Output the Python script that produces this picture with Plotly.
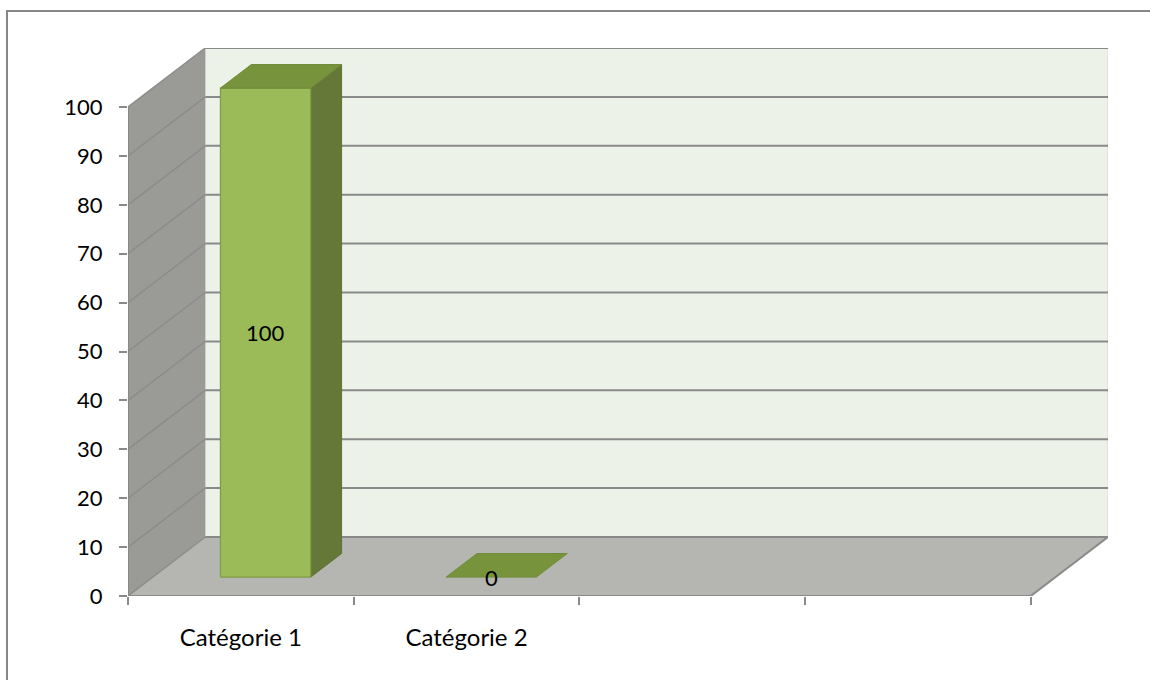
import plotly.graph_objects as go

# ---- data ----
categories = ["Catégorie 1", "Catégorie 2", "", ""]
values = [100, 0, None, None]
y_ticks = [0, 10, 20, 30, 40, 50, 60, 70, 80, 90, 100]
value_labels = ["100", "0"]

# ---- 3D projection settings (oblique) ----
W, H = 1150, 680
ML, MR, MT, MB = 128, 42, 48, 84
NCAT = len(categories)
YMAX = 100
PX_PER_CAT = 225.0
PX_PER_VAL = 4.89
DX = 77 / PX_PER_CAT      # depth offset in category units
DY = 59 / PX_PER_VAL      # depth offset in value units
Z0, Z1 = 0.32, 0.72       # bar depth extent
BW0, BW1 = 0.30, 0.70     # bar width extent inside a category
FONT = "Lato, 'Open Sans', sans-serif"


def P(x, v, z):
    return x + z * DX, v + z * DY


def poly(pts):
    xs = [p[0] for p in pts] + [pts[0][0]]
    ys = [p[1] for p in pts] + [pts[0][1]]
    return xs, ys


def path(pts):
    s = "M " + " L ".join(f"{x},{y}" for x, y in pts) + " Z"
    return s


GRID = "#898989"
fig = go.Figure()
shapes = []

# outer chart border
shapes.append(dict(type="rect", xref="paper", yref="paper",
                   x0=(7 - ML) / (W - ML - MR), x1=(1170 - ML) / (W - ML - MR),
                   y0=(H - MB - 11) / (H - MT - MB), y1=(H - MB - 720) / (H - MT - MB),
                   line=dict(color="#878787", width=2), fillcolor="rgba(0,0,0,0)",
                   layer="below"))

# back wall
bw = [P(0, 0, 1), P(NCAT, 0, 1), P(NCAT, YMAX, 1), P(0, YMAX, 1)]
shapes.append(dict(type="path", xref="x", yref="y", path=path(bw),
                   fillcolor="#EDF2E9", line=dict(color="#D5D8D2", width=1), layer="below"))
# left wall
lw = [P(0, 0, 0), P(0, 0, 1), P(0, YMAX, 1), P(0, YMAX, 0)]
shapes.append(dict(type="path", xref="x", yref="y", path=path(lw),
                   fillcolor="#9A9B97", line=dict(width=0), layer="below"))
# floor
fl = [P(0, 0, 0), P(NCAT, 0, 0), P(NCAT, 0, 1), P(0, 0, 1)]
shapes.append(dict(type="path", xref="x", yref="y", path=path(fl),
                   fillcolor="#B5B6B1", line=dict(width=0), layer="below"))

# gridlines
for v in y_ticks:
    a = P(0, v, 0); b = P(0, v, 1); c = P(NCAT, v, 1)
    shapes.append(dict(type="line", xref="x", yref="y", x0=a[0], y0=a[1], x1=b[0], y1=b[1],
                       line=dict(color="#8C8C8C", width=1.5), layer="below"))
    shapes.append(dict(type="line", xref="x", yref="y", x0=b[0], y0=b[1], x1=c[0], y1=c[1],
                       line=dict(color=GRID, width=2), layer="below"))

# axis lines: left edge, front floor edge, right floor edge
a = P(0, 0, 0); b = P(0, YMAX, 0)
shapes.append(dict(type="line", xref="x", yref="y", x0=a[0], y0=a[1], x1=b[0], y1=b[1],
                   line=dict(color=GRID, width=2), layer="below"))
a = P(0, 0, 0); b = P(NCAT, 0, 0)
shapes.append(dict(type="line", xref="x", yref="y", x0=a[0], y0=a[1], x1=b[0], y1=b[1],
                   line=dict(color=GRID, width=2), layer="below"))
a = P(NCAT, 0, 0); b = P(NCAT, 0, 1)
shapes.append(dict(type="line", xref="x", yref="y", x0=a[0], y0=a[1], x1=b[0], y1=b[1],
                   line=dict(color=GRID, width=2), layer="below"))

# bars
annotations = []
for i, v in enumerate(values):
    if v is None:
        continue
    x0, x1 = i + BW0, i + BW1
    if v > 0:
        front = [P(x0, 0, Z0), P(x1, 0, Z0), P(x1, v, Z0), P(x0, v, Z0)]
        side = [P(x1, 0, Z0), P(x1, 0, Z1), P(x1, v, Z1), P(x1, v, Z0)]
        xs, ys = poly(side)
        fig.add_trace(go.Scatter(x=xs, y=ys, fill="toself", mode="lines",
                                 fillcolor="#657838", line=dict(color="#5E7233", width=1),
                                 hoverinfo="skip", showlegend=False))
        xs, ys = poly(front)
        fig.add_trace(go.Scatter(x=xs, y=ys, fill="toself", mode="lines",
                                 fillcolor="#9BBB59", line=dict(color="#7E9C45", width=1.2),
                                 hoverinfo="skip", showlegend=False))
    top = [P(x0, v, Z0), P(x1, v, Z0), P(x1, v, Z1), P(x0, v, Z1)]
    xs, ys = poly(top)
    fig.add_trace(go.Scatter(x=xs, y=ys, fill="toself", mode="lines",
                             fillcolor="#77933C", line=dict(color="#718C39", width=1),
                             hoverinfo="skip", showlegend=False))
    cx, cy = P((x0 + x1) / 2, v / 2, Z0)
    annotations.append(dict(x=cx, y=cy, xref="x", yref="y", text=value_labels[i],
                            showarrow=False, font=dict(family=FONT, size=22, color="#000000"),
                            xanchor="center", yanchor="middle"))

fig.update_layout(
    width=W, height=H, autosize=False,
    margin=dict(l=ML, r=MR, t=MT, b=MB, pad=0),
    paper_bgcolor="white", plot_bgcolor="white",
    font=dict(family=FONT, size=22, color="#000000"),
    shapes=shapes, annotations=annotations, showlegend=False,
    xaxis=dict(range=[0, NCAT + DX], showgrid=False, zeroline=False, showline=False,
               tickmode="array", tickvals=[i + 0.5 for i in range(NCAT)], ticktext=categories,
               ticks="", ticklabelstandoff=25, fixedrange=True,
               tickfont=dict(family=FONT, size=24, color="#000000"),
               minor=dict(tickmode="array", tickvals=list(range(NCAT + 1)), ticks="outside",
                          ticklen=8, tickwidth=2, tickcolor=GRID, showgrid=False)),
    yaxis=dict(range=[0, YMAX + DY], showgrid=False, zeroline=False, showline=False,
               tickmode="array", tickvals=y_ticks, ticks="outside", ticklen=8, tickwidth=2,
               tickcolor=GRID, ticklabelstandoff=12, fixedrange=True,
               tickfont=dict(family=FONT, size=22, color="#000000")),
)

fig.write_html("out.html")
